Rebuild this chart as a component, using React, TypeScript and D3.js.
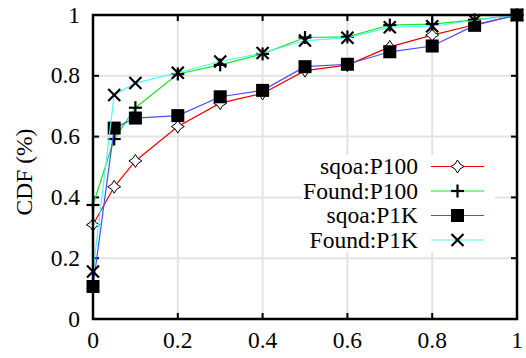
import React from "react";
import { scaleLinear, line } from "d3";

const xs = [0, 0.05, 0.1, 0.2, 0.3, 0.4, 0.5, 0.6, 0.7, 0.8, 0.9, 1];
const sqoaP100 = [0.31, 0.435, 0.52, 0.633, 0.71, 0.742, 0.817, 0.835, 0.895, 0.934, 0.968, 1];
const foundP100 = [0.375, 0.592, 0.695, 0.806, 0.836, 0.872, 0.926, 0.928, 0.967, 0.97, 0.984, 1];
const sqoaP1K = [0.107, 0.628, 0.661, 0.669, 0.731, 0.752, 0.83, 0.838, 0.879, 0.898, 0.966, 1];
const foundP1K = [0.156, 0.737, 0.776, 0.81, 0.847, 0.875, 0.916, 0.925, 0.96, 0.963, 0.982, 1];
const ticks = [0, 0.2, 0.4, 0.6, 0.8, 1];

const series = [
  { name: "sqoa:P100", values: sqoaP100, color: "#ee0000", marker: "diamond" },
  { name: "Found:P100", values: foundP100, color: "#22e022", marker: "plus" },
  { name: "sqoa:P1K", values: sqoaP1K, color: "#4c4cff", marker: "square" },
  { name: "Found:P1K", values: foundP1K, color: "#4cf8f8", marker: "cross" },
];

const W = 526;
const H = 358;
const margin = { left: 93, right: 9, top: 15, bottom: 39 };
const font = "Liberation Serif";
const fs = 23.5;

const Marker = ({ kind, x, y }: { kind: string; x: number; y: number }) => {
  if (kind === "diamond") {
    const r = 6.5;
    const c = 1.8;
    return (
      <path
        transform={`translate(${x},${y})`}
        d={`M0,${-r} Q${c},${-c} ${r},0 Q${c},${c} 0,${r} Q${-c},${c} ${-r},0 Q${-c},${-c} 0,${-r} Z`}
        fill="white"
        stroke="black"
        strokeWidth={1}
      />
    );
  }
  if (kind === "plus") {
    return (
      <g stroke="black" strokeWidth={2.2}>
        <line x1={x - 6.5} x2={x + 6.5} y1={y} y2={y} />
        <line x1={x} x2={x} y1={y - 6.5} y2={y + 6.5} />
      </g>
    );
  }
  if (kind === "square") {
    return <rect x={x - 6.5} y={y - 6.5} width={13} height={13} fill="black" />;
  }
  return (
    <g stroke="black" strokeWidth={2.2}>
      <line x1={x - 6} x2={x + 6} y1={y - 6} y2={y + 6} />
      <line x1={x - 6} x2={x + 6} y1={y + 6} y2={y - 6} />
    </g>
  );
};

export default function App() {
  const x = scaleLinear().domain([0, 1]).range([margin.left, W - margin.right]);
  const y = scaleLinear().domain([0, 1]).range([H - margin.bottom, margin.top]);
  const path = line<number>()
    .x((_, i) => x(xs[i]))
    .y((d) => y(d));

  const legend = { right: 418, x1: 431, x2: 484, y0: 166.5, dy: 24.5 };
  const box = { x: 302, y: 155, w: 193, h: 97 };

  return (
    <svg
      width={W}
      height={H}
      style={{ position: "absolute", left: 0, top: 0, background: "white" }}
    >
      {/* grid */}
      <g stroke="#e3e3e3" strokeWidth={2}>
        {ticks.slice(1, -1).map((t) => (
          <line key={"gx" + t} x1={x(t)} x2={x(t)} y1={y(0)} y2={y(1)} />
        ))}
        {ticks.slice(1, -1).map((t) => (
          <line key={"gy" + t} x1={x(0)} x2={x(1)} y1={y(t)} y2={y(t)} />
        ))}
      </g>
      <rect x={box.x} y={box.y} width={box.w} height={box.h} fill="white" />

      {/* ticks */}
      <g stroke="black" strokeWidth={2}>
        {ticks.map((t) => (
          <g key={"t" + t}>
            <line x1={x(t)} x2={x(t)} y1={y(0)} y2={y(0) - 6} />
            <line x1={x(t)} x2={x(t)} y1={y(1)} y2={y(1) + 6} />
            <line x1={x(0)} x2={x(0) + 6} y1={y(t)} y2={y(t)} />
            <line x1={x(1)} x2={x(1) - 6} y1={y(t)} y2={y(t)} />
          </g>
        ))}
      </g>

      {/* tick labels */}
      {ticks.map((t) => (
        <text key={"xl" + t} x={x(t)} y={348} textAnchor="middle" fontFamily={font} fontSize={fs} fill="black">
          {String(t)}
        </text>
      ))}
      {ticks.map((t) => (
        <text key={"yl" + t} x={80} y={y(t) + 7.5} textAnchor="end" fontFamily={font} fontSize={fs} fill="black">
          {String(t)}
        </text>
      ))}
      <text
        transform={`translate(32,172) rotate(-90)`}
        textAnchor="middle"
        fontFamily={font}
        fontSize={fs}
        fill="black"
      >
        CDF (%)
      </text>

      {/* series */}
      {series.map((s) => (
        <g key={s.name}>
          <path d={path(s.values) || ""} fill="none" stroke={s.color} strokeWidth={1.2} />
          {s.values.map((v, i) => (
            <Marker key={i} kind={s.marker} x={x(xs[i])} y={y(v)} />
          ))}
        </g>
      ))}

      {/* legend */}
      {series.map((s, i) => {
        const ly = legend.y0 + i * legend.dy;
        return (
          <g key={"lg" + s.name}>
            <text x={legend.right} y={ly + 7.5} textAnchor="end" fontFamily={font} fontSize={fs} fill="black">
              {s.name}
            </text>
            <line x1={legend.x1} x2={legend.x2} y1={ly} y2={ly} stroke={s.color} strokeWidth={1.2} />
            <Marker kind={s.marker} x={(legend.x1 + legend.x2) / 2} y={ly} />
          </g>
        );
      })}

      {/* frame */}
      <rect
        x={x(0)}
        y={y(1)}
        width={x(1) - x(0)}
        height={y(0) - y(1)}
        fill="none"
        stroke="black"
        strokeWidth={2.5}
      />
    </svg>
  );
}
